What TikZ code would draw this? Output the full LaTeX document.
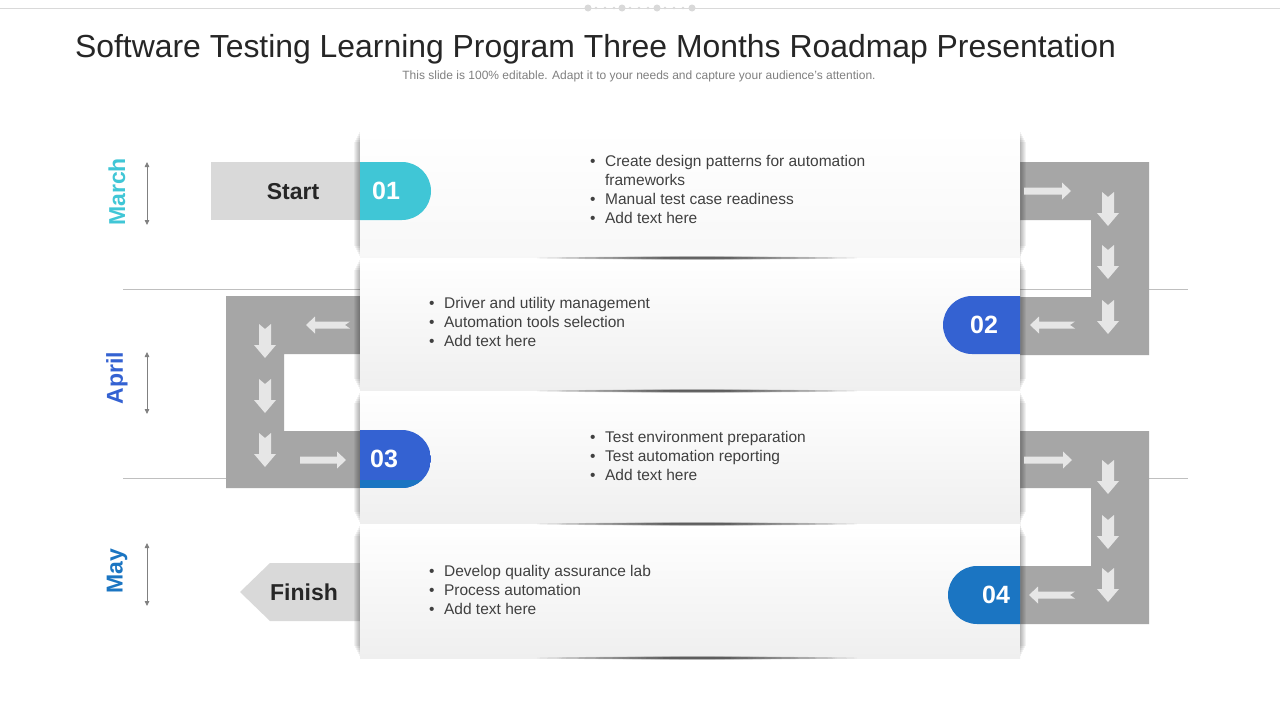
\documentclass[tikz,border=0pt]{standalone}
\usepackage{fontspec}
\setmainfont{Liberation Sans}
\usetikzlibrary{arrows.meta}

\definecolor{marchcol}{RGB}{64,198,214}
\definecolor{aprilcol}{RGB}{52,98,210}
\definecolor{maycol}{RGB}{27,117,194}
\definecolor{roadgray}{RGB}{166,166,166}
\definecolor{arrowlite}{RGB}{230,230,230}
\definecolor{tabgray}{RGB}{217,217,217}
\definecolor{panelgray}{RGB}{239,239,239}
\definecolor{inkdark}{RGB}{38,38,38}
\definecolor{inkbody}{RGB}{64,64,64}
\definecolor{rulegray}{RGB}{191,191,191}

\begin{document}
\begin{tikzpicture}[
        x=1pt, y=-1pt,
        road/.style={fill=roadgray, even odd rule},
        panel/.style={top color=white, bottom color=panelgray},
        tabtext/.style={font=\fontsize{23}{23}\selectfont\bfseries, text=inkdark},
        numtext/.style={font=\fontsize{25}{25}\selectfont\bfseries, text=white},
        monthtext/.style={font=\fontsize{23}{23}\selectfont\bfseries, rotate=90},
        listtext/.style={font=\fontsize{15.5}{19}\selectfont, text=inkbody, anchor=base west, inner sep=0pt},
        montharrow/.style={draw=gray, line width=0.8pt, {Triangle[length=5pt,width=4.5pt]}-{Triangle[length=5pt,width=4.5pt]}},
        sep/.style={draw=rulegray, line width=0.8pt},
        pics/hflow/.style 2 args={code={
            \fill[arrowlite] (0,-3.5) -- (#1-9,-3.5) -- (#1-9,-8.5) -- (#1,0)
                -- (#1-9,8.5) -- (#1-9,3.5) -- (0,3.5) -- (#2,0) -- cycle;}},
        pics/vflow/.style={code={
            \fill[arrowlite] (0,-6) -- (21,-6) -- (21,-11) -- (34,0)
                -- (21,11) -- (21,6) -- (0,6) -- (5,0) -- cycle;}}
    ]
    \useasboundingbox (0,0) rectangle (1280,720);
    \fill[white] (0,0) rectangle (1280,720);

    % header rule
    \draw[draw=tabgray, line width=1pt] (0,8) -- (1280,8);
    \foreach \x in {588,622,657,692}
        \fill[tabgray] (\x,8) circle[radius=3.5];
    \foreach \x in {596,605,614,630,639,648,665,674,683}
        \fill[tabgray] (\x,8) circle[radius=1.3];

    \node[font=\fontsize{31.9}{32}\selectfont, text=inkdark] (title) at (595.5,49)
        {Software Testing Learning Program Three Months Roadmap Presentation};
    \node[font=\fontsize{12}{12}\selectfont, text=gray] (subtitle) at (639,76)
        {This slide is 100\% editable. Adapt it to your needs and capture your audience's attention.};

    % month separators
    \draw[sep] (123,289) -- (1188,289);
    \draw[sep] (123,478) -- (1188,478);

    % roads
    \fill[road] (1020,162) rectangle (1149,355) (1020,220) rectangle (1091,297);
    \fill[road] (226,296) rectangle (360,488) (284,354) rectangle (360,431);
    \fill[road] (1020,431) rectangle (1149,624) (1020,488) rectangle (1091,566);

    % start and finish tabs
    \fill[tabgray] (211,162) rectangle (360,220);
    \fill[tabgray] (240,592) -- (270,563) -- (360,563) -- (360,621) -- (270,621) -- cycle;

    % panels
    \fill[top color=white, bottom color=white!97!black] (360,130) rectangle (1020,258);
    \fill[panel] (360,258) rectangle (1020,391);
    \fill[panel] (360,391) rectangle (1020,524);
    \fill[panel] (360,524) rectangle (1020,658);

    % panel shadows
    \foreach \t/\b in {130/258,258/391,391/524,524/658}
        \foreach \i in {1,...,6} {
            \fill[black, opacity=0.05] (360-\i,\t+2*\i) rectangle (360,\b-2*\i);
            \fill[black, opacity=0.05] (1020,\t+2*\i) rectangle (1020+\i,\b-2*\i);
        }
    \foreach \y in {258,391,524,658}
        \foreach \r in {40,60,...,160}
            \fill[black, opacity=0.12] (697,\y) ellipse[x radius=\r, y radius=1.4];

    % step pills
    \fill[marchcol] (360,162) -- (402,162) arc[start angle=-90, end angle=90, radius=29] -- (360,220) -- cycle;
    \fill[aprilcol] (1020,296) -- (972,296) arc[start angle=-90, end angle=-270, radius=29] -- (1020,354) -- cycle;
    \begin{scope}
        \clip (360,430) -- (402,430) arc[start angle=-90, end angle=90, radius=29] -- (360,488) -- cycle;
        \fill[aprilcol] (360,430) rectangle (431,488);
        \fill[maycol] (360,480) rectangle (431,488);
    \end{scope}
    \fill[maycol] (1020,566) -- (977,566) arc[start angle=-90, end angle=-270, radius=29] -- (1020,624) -- cycle;

    % flow arrows
    \pic at (1024,191) {hflow={47}{0}};
    \foreach \y in {192,245,300}
        \pic[rotate=-90] at (1108,\y) {vflow};
    \pic[rotate=180] at (1075,325) {hflow={45}{5}};
    \pic[rotate=180] at (350,325) {hflow={44}{5}};
    \foreach \y in {324,379,433}
        \pic[rotate=-90] at (265,\y) {vflow};
    \pic at (300,460) {hflow={46}{0}};
    \pic at (1024,460) {hflow={48}{0}};
    \foreach \y in {460,515,568}
        \pic[rotate=-90] at (1108,\y) {vflow};
    \pic[rotate=180] at (1075,595) {hflow={46}{5}};

    % labels
    \node[tabtext] (start) at (293,192) {Start};
    \node[tabtext] (finish) at (304,592) {Finish};
    \node[numtext] (n1) at (386,191) {01};
    \node[numtext] (n2) at (984,325) {02};
    \node[numtext] (n3) at (384,459) {03};
    \node[numtext] (n4) at (996,595) {04};

    \node[monthtext, text=marchcol] (march) at (117,192) {March};
    \node[monthtext, text=aprilcol] (april) at (117,378) {April};
    \node[monthtext, text=maycol] (may) at (117,571) {May};
    \coordinate (m1a) at (147,162); \coordinate (m1b) at (147,225);
    \coordinate (m2a) at (147,352); \coordinate (m2b) at (147,414);
    \coordinate (m3a) at (147,543); \coordinate (m3b) at (147,606);
    \draw[montharrow] (m1a) -- (m1b);
    \draw[montharrow] (m2a) -- (m2b);
    \draw[montharrow] (m3a) -- (m3b);

    % step texts
    \node[listtext] (list1) at (590,166) {\begin{tabular}[t]{@{}l@{\hspace{9.5pt}}l@{}}
        \textbullet & Create design patterns for automation\\
        & frameworks\\
        \textbullet & Manual test case readiness\\
        \textbullet & Add text here\end{tabular}};
    \node[listtext] (list2) at (429,308) {\begin{tabular}[t]{@{}l@{\hspace{9.5pt}}l@{}}
        \textbullet & Driver and utility management\\
        \textbullet & Automation tools selection\\
        \textbullet & Add text here\end{tabular}};
    \node[listtext] (list3) at (590,442) {\begin{tabular}[t]{@{}l@{\hspace{9.5pt}}l@{}}
        \textbullet & Test environment preparation\\
        \textbullet & Test automation reporting\\
        \textbullet & Add text here\end{tabular}};
    \node[listtext] (list4) at (429,576) {\begin{tabular}[t]{@{}l@{\hspace{9.5pt}}l@{}}
        \textbullet & Develop quality assurance lab\\
        \textbullet & Process automation\\
        \textbullet & Add text here\end{tabular}};
\end{tikzpicture}
\end{document}
